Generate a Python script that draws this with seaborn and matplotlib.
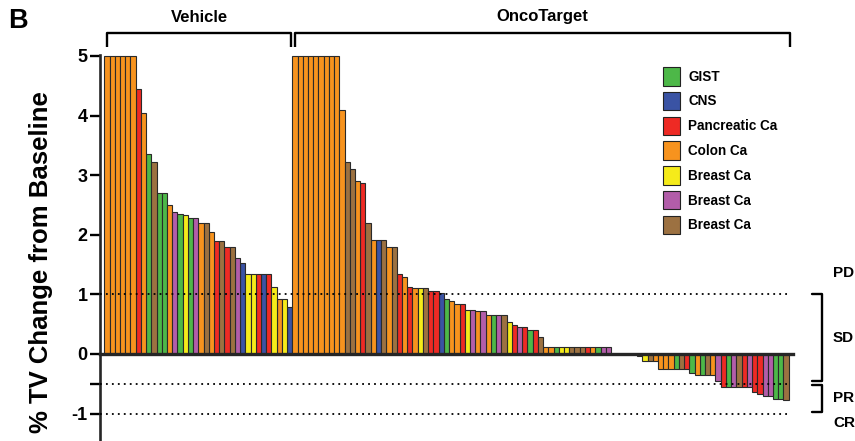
import matplotlib
matplotlib.use('Agg')
import matplotlib.pyplot as plt
import matplotlib.transforms as mtransforms
from matplotlib.patches import Patch
import seaborn as sns
import pandas as pd

sns.set_style('ticks')
plt.rcParams['font.family'] = ['Liberation Sans', 'DejaVu Sans']
plt.rcParams['font.weight'] = 'bold'
plt.rcParams['text.color'] = 'black'
plt.rcParams['axes.labelcolor'] = 'black'
plt.rcParams['xtick.color'] = 'black'
plt.rcParams['ytick.color'] = 'black'

# ---------------- data ----------------
group_names = ['Vehicle', 'OncoTarget']
type_codes = ['G', 'N', 'P', 'C', 'Y', 'M', 'B']
legend_labels = ['GIST', 'CNS', 'Pancreatic Ca', 'Colon Ca', 'Breast Ca', 'Breast Ca', 'Breast Ca']
type_colors = ['#4DB848', '#3A53A4', '#EE2A24', '#F7931E', '#F5EB1A', '#B25DA9', '#9C7141']

vehicle_values = [5, 5, 5, 5, 5, 5, 4.45, 4.04, 3.36, 3.22, 2.70, 2.70, 2.50, 2.39,
                  2.35, 2.33, 2.28, 2.28, 2.19, 2.19, 2.04, 1.90, 1.90, 1.79, 1.79,
                  1.61, 1.53, 1.34, 1.34, 1.34, 1.34, 1.34, 1.12, 0.93, 0.92, 0.78]
vehicle_types = list('CCCCCC' 'PCGBGGCMGYGM' 'CBCPBPBMN' 'YYPNP' 'YCYN')

onco_values = [5, 5, 5, 5, 5, 5, 5, 5, 5,
               4.09, 3.22, 3.10, 2.90, 2.87, 2.20, 1.91, 1.91, 1.91, 1.80, 1.80,
               1.34, 1.30, 1.13, 1.11, 1.11, 1.11, 1.05, 1.05, 1.03, 0.93, 0.89,
               0.84, 0.84, 0.73, 0.73, 0.72, 0.72, 0.66, 0.65, 0.65, 0.65, 0.54,
               0.49, 0.45, 0.45, 0.40, 0.40, 0.29,
               0.11, 0.11, 0.11, 0.11, 0.11, 0.11, 0.11, 0.11, 0.11, 0.11, 0.11, 0.11, 0.11,
               0, 0, 0, 0, 0,
               -0.04, -0.12, -0.12, -0.12, -0.26, -0.26, -0.26, -0.26, -0.26, -0.26,
               -0.32, -0.35, -0.35, -0.35, -0.35, -0.46, -0.55, -0.55, -0.55, -0.55,
               -0.55, -0.55, -0.64, -0.67, -0.70, -0.70, -0.76, -0.76, -0.77]
onco_types = list('CCCCCCCCC' 'CBBCPBCNBCB' 'PCPCYBPPNGCCP' 'YMCMCGMB' 'YPMPGPB'
                  'CCGYYBBBPCGMM' 'CCCCC'
                  'BYBCCCCGBPGCGBCMPGMBPMPPMMGGB')

# ---------------- build table ----------------
values = vehicle_values + onco_values
types = vehicle_types + onco_types
df = pd.DataFrame({'pos': list(range(len(values))), 'value': values, 'type': types})
palette = dict(zip(type_codes, type_colors))

fig = plt.figure(figsize=(8.55, 4.41), dpi=100)
ppu = 5.224
ax = fig.add_axes([100 / 855, 0, 693 / 855, 386.2 / 441])

sns.barplot(data=df, x='pos', y='value', hue='type', palette=palette,
            hue_order=type_codes, order=list(range(len(values))),
            dodge=False, width=1.0, saturation=1, errorbar=None,
            edgecolor='#2a2a2a', linewidth=0.8, legend=False, ax=ax)

x_left = -1.32
x_right = x_left + 693 / ppu
ax.set_xlim(x_left, x_right)
ax.set_ylim(-1.46, 5.02)

ax.spines['top'].set_visible(False)
ax.spines['right'].set_visible(False)
ax.spines['left'].set_linewidth(1.9)
ax.spines['bottom'].set_position(('data', 0))
ax.spines['bottom'].set_linewidth(2.4)
ax.spines['bottom'].set_zorder(5)
ax.set_xticks([])
ax.set_xlabel('')
ax.set_ylabel('')
ax.set_yticks([-1, -0.5, 0, 1, 2, 3, 4, 5])
ax.set_yticklabels(['-1', '', '0', '1', '2', '3', '4', '5'])
ax.tick_params(axis='y', left=True, length=7, width=1.7, labelsize=13, pad=2)
for lab in ax.get_yticklabels():
    lab.set_fontweight('bold')

# response threshold lines
line_end = 130.76
ax.hlines([1, -0.5, -1], x_left, line_end, colors='black', linewidth=1.3,
          linestyles=[(0, (1, 2.3))], zorder=6)

# group brackets on top
tr_top = mtransforms.blended_transform_factory(ax.transData, ax.transAxes)
yb = (441 - 33) / 386.2
yt = (441 - 47) / 386.2
ytext = (441 - 17) / 386.2
spans = [(0.02, 35.24), (36.0, 130.76)]
for name, (a, b) in zip(group_names, spans):
    ax.plot([a, a, b, b], [yt, yb, yb, yt], color='black', lw=1.7,
            transform=tr_top, clip_on=False, solid_capstyle='butt')
    ax.text((a + b) / 2, ytext, name, transform=tr_top, ha='center', va='center',
            fontsize=12, fontweight='bold')

# response brackets on right
tr_r = mtransforms.blended_transform_factory(ax.transAxes, ax.transData)
xv = (822 - 100) / 693
xt = (812 - 100) / 693
xl = (833 - 100) / 693
for top, bot in [(1.0, -0.45), (-0.52, -0.98)]:
    ax.plot([xt, xv, xv, xt], [top, top, bot, bot], color='black', lw=1.7,
            transform=tr_r, clip_on=False)
for lab, yv in [('PD', 1.36), ('SD', 0.27), ('PR', -0.74), ('CR', -1.16)]:
    ax.text(xl, yv, lab, transform=tr_r, ha='left', va='center',
            fontsize=11, fontweight='bold')

# legend
handles = [Patch(facecolor=c, edgecolor='#222222', linewidth=0.8) for c in type_colors]
fig.legend(handles, legend_labels, loc='upper left',
           bbox_to_anchor=(663 / 855, 1 - 67 / 441), frameon=False,
           borderpad=0, borderaxespad=0, handlelength=1.28, handleheight=1.73,
           labelspacing=0.46, handletextpad=0.6,
           prop={'size': 9.75, 'weight': 'bold'})

fig.text(41 / 855, 1 - 262 / 441, '% TV Change from Baseline', rotation=90,
         ha='center', va='center', fontsize=18.5, fontweight='bold')
fig.text(8 / 855, 1 - 28 / 441, 'B', ha='left', va='baseline',
         fontsize=19.5, fontweight='bold')

fig.savefig('out.png', dpi=100)
